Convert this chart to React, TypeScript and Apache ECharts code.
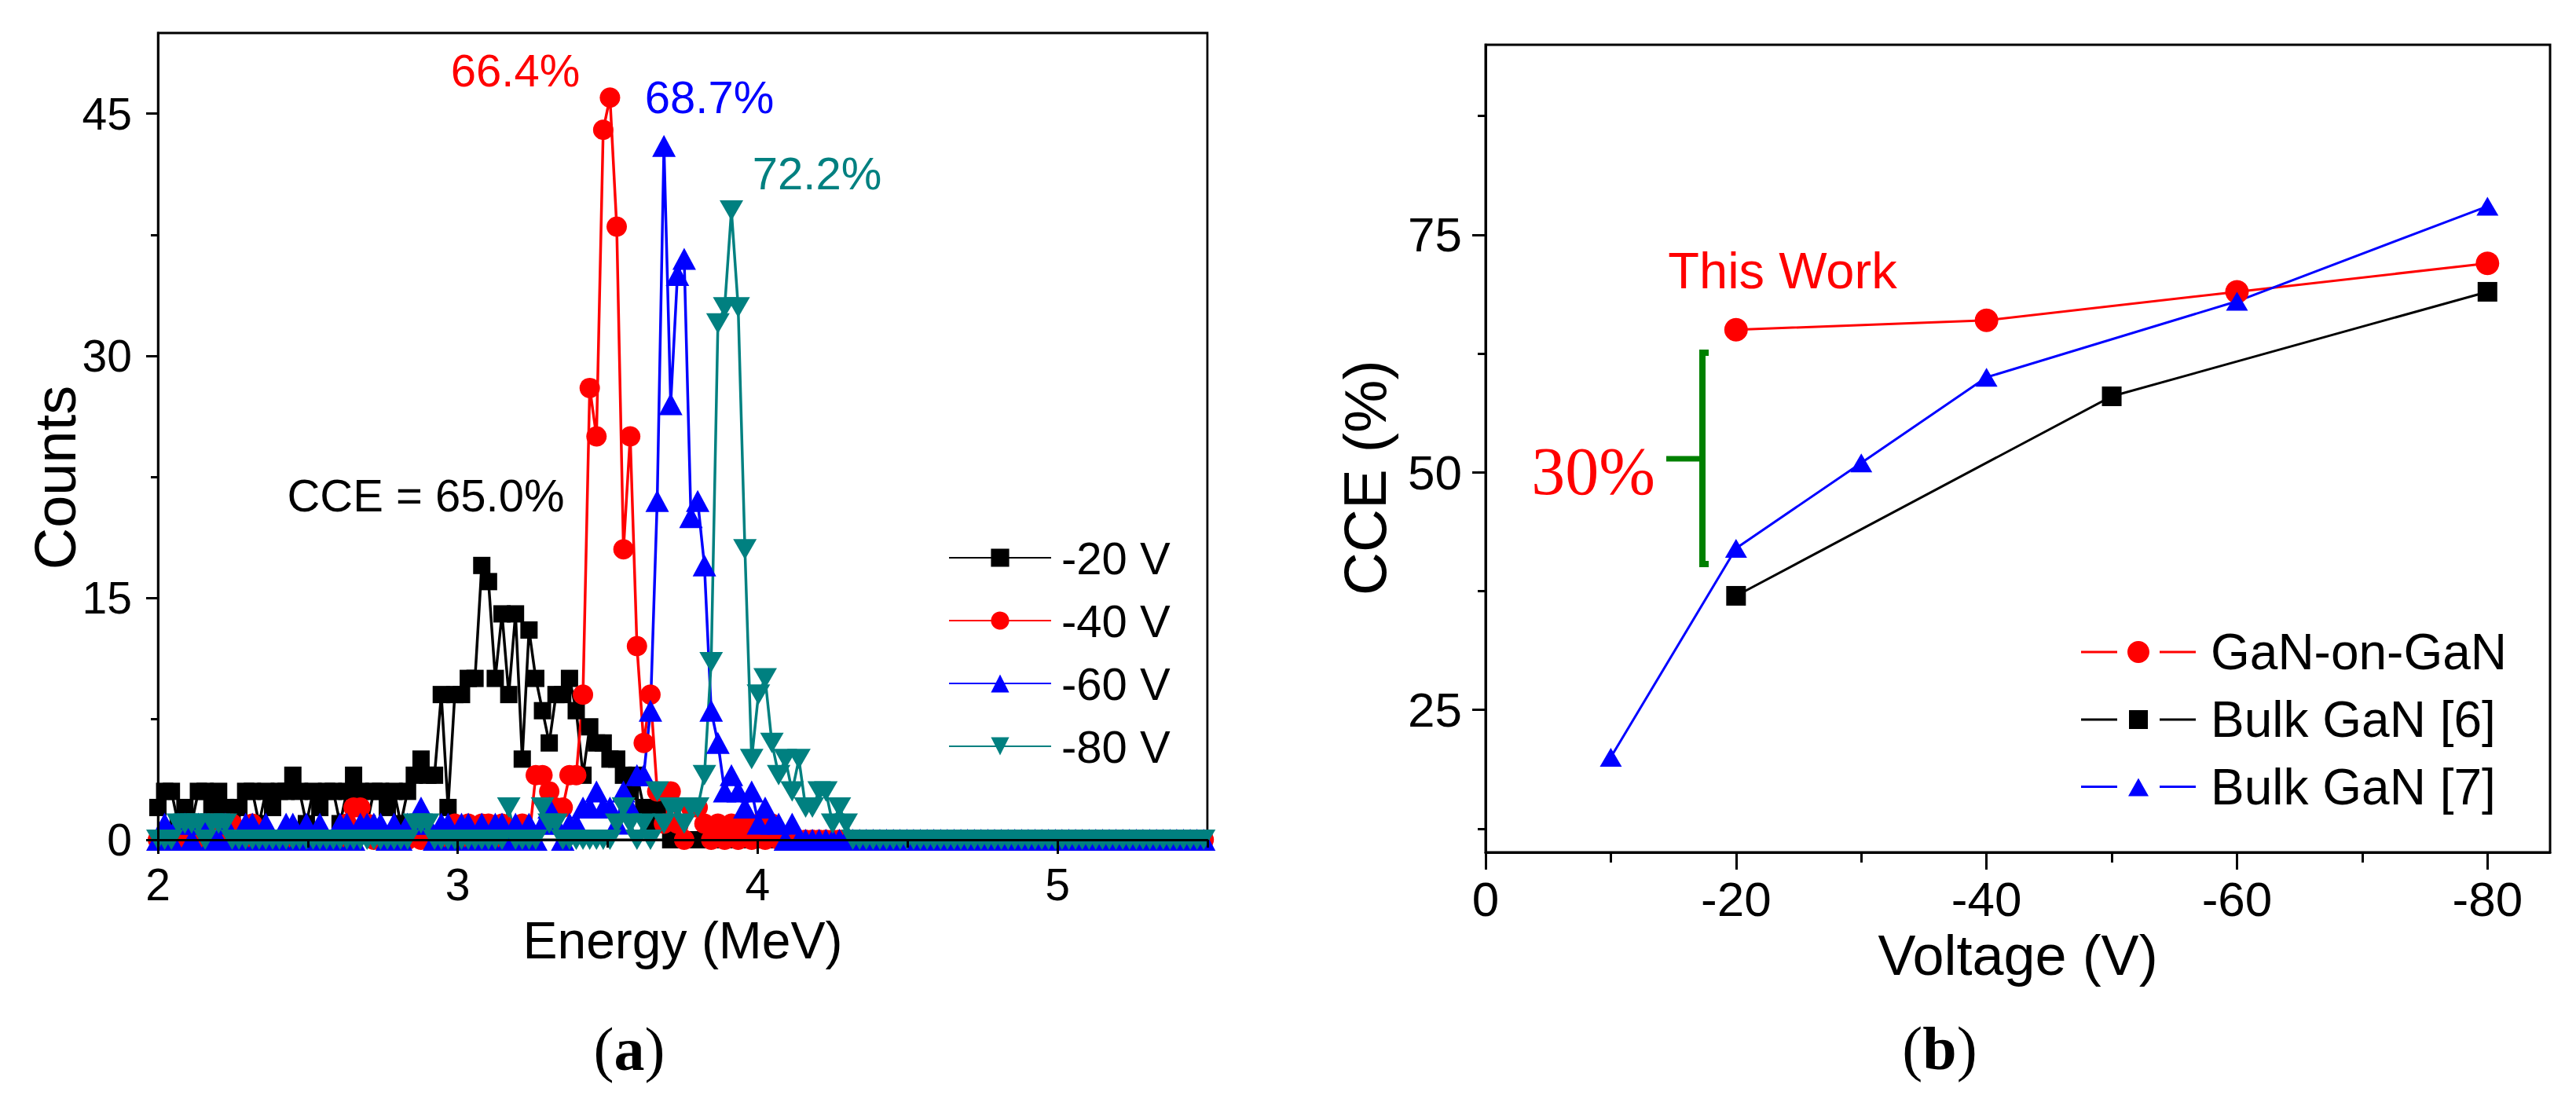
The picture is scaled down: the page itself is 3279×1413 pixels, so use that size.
import React, { useEffect, useRef } from 'react';
import * as echarts from 'echarts';

// (a) pulse height spectra, one value per channel: 2 MeV start, 0.0225 MeV per channel
const energyStart = 2;
const energyStep = 0.0225;

const counts20V = [
  2, 3, 3, 1, 2, 1, 3, 3, 2, 3,
  2, 1, 2, 3, 3, 1, 3, 2, 3, 3,
  4, 3, 1, 3, 2, 3, 3, 1, 3, 4,
  3, 1, 3, 3, 2, 3, 1, 3, 4, 5,
  4, 4, 9, 2, 9, 9, 10, 10, 17, 16,
  10, 14, 9, 14, 5, 13, 10, 8, 6, 9,
  9, 10, 8, 4, 7, 6, 6, 5, 5, 4,
  3, 4, 2, 1, 2, 1, 0, 1, 0, 0,
  0, 0, 0, 0, 0, 0, 0, 0, 0, 0,
  0, 0, 0, 0, 0, 0, 0, 0, 0, 0,
  0, 0, 0, 0, 0, 0, 0, 0, 0, 0,
  0, 0, 0, 0, 0, 0, 0, 0, 0, 0,
  0, 0, 0, 0, 0, 0, 0, 0, 0, 0,
  0, 0, 0, 0, 0, 0, 0, 0, 0, 0,
  0, 0, 0, 0, 0, 0, 0, 0, 0, 0,
  0, 0, 0, 0, 0, 0,
];

const counts40V = [
  0, 0, 0, 0, 0, 1, 0, 1, 1, 0,
  1, 1, 0, 0, 1, 0, 0, 0, 0, 0,
  0, 0, 0, 0, 0, 0, 0, 0, 1, 2,
  2, 1, 0, 0, 0, 0, 0, 0, 1, 0,
  0, 0, 0, 0, 1, 0, 1, 0, 1, 1,
  0, 1, 0, 0, 1, 0, 4, 4, 3, 2,
  2, 4, 4, 9, 28, 25, 44, 46, 38, 18,
  25, 12, 6, 9, 3, 1, 3, 1, 0, 2,
  2, 1, 0, 1, 0, 1, 0, 1, 0, 1,
  0, 1, 0, 0, 0, 0, 0, 0, 0, 0,
  0, 0, 0, 0, 0, 0, 0, 0, 0, 0,
  0, 0, 0, 0, 0, 0, 0, 0, 0, 0,
  0, 0, 0, 0, 0, 0, 0, 0, 0, 0,
  0, 0, 0, 0, 0, 0, 0, 0, 0, 0,
  0, 0, 0, 0, 0, 0, 0, 0, 0, 0,
  0, 0, 0, 0, 0, 0,
];

const counts60V = [
  0, 1, 0, 1, 1, 0, 1, 1, 0, 0,
  1, 0, 0, 1, 1, 0, 1, 0, 0, 1,
  1, 0, 1, 0, 1, 0, 0, 1, 1, 0,
  1, 1, 1, 1, 0, 1, 0, 1, 1, 2,
  1, 0, 1, 1, 0, 1, 1, 0, 1, 0,
  1, 1, 0, 1, 0, 1, 0, 1, 2, 1,
  0, 1, 1, 2, 2, 3, 2, 2, 1, 3,
  2, 4, 4, 8, 21, 43, 27, 35, 36, 20,
  21, 17, 8, 6, 3, 4, 3, 2, 3, 1,
  2, 1, 1, 0, 1, 0, 0, 0, 0, 0,
  0, 0, 0, 0, 0, 0, 0, 0, 0, 0,
  0, 0, 0, 0, 0, 0, 0, 0, 0, 0,
  0, 0, 0, 0, 0, 0, 0, 0, 0, 0,
  0, 0, 0, 0, 0, 0, 0, 0, 0, 0,
  0, 0, 0, 0, 0, 0, 0, 0, 0, 0,
  0, 0, 0, 0, 0, 0,
];

const counts80V = [
  0, 0, 0, 1, 1, 1, 1, 0, 1, 1,
  1, 0, 0, 0, 0, 0, 0, 0, 0, 0,
  0, 0, 0, 0, 0, 0, 0, 0, 0, 0,
  0, 0, 0, 0, 0, 0, 0, 0, 1, 1,
  1, 0, 0, 0, 0, 0, 0, 0, 0, 0,
  0, 0, 2, 0, 0, 0, 0, 2, 1, 1,
  0, 0, 0, 0, 0, 0, 0, 0, 1, 2,
  1, 0, 1, 0, 3, 1, 2, 2, 1, 2,
  2, 4, 11, 32, 33, 39, 33, 18, 5, 9,
  10, 6, 4, 5, 3, 5, 2, 2, 3, 3,
  1, 2, 1, 0, 0, 0, 0, 0, 0, 0,
  0, 0, 0, 0, 0, 0, 0, 0, 0, 0,
  0, 0, 0, 0, 0, 0, 0, 0, 0, 0,
  0, 0, 0, 0, 0, 0, 0, 0, 0, 0,
  0, 0, 0, 0, 0, 0, 0, 0, 0, 0,
  0, 0, 0, 0, 0, 0,
];

const energyTicks = [2, 3, 4, 5];
const energyMinor = [2.5, 3.5, 4.5, 5.5];
const countTicks = [0, 15, 30, 45];
const countMinor = [7.5, 22.5, 37.5];

// (b) CCE against bias (magnitude, drawn with a minus sign on the axis)
const voltTicks = [0, 20, 40, 60, 80];
const voltMinor = [10, 30, 50, 70];
const cceTicks = [25, 50, 75];
const cceMinor = [12.5, 37.5, 62.5, 87.5];

const voltGaN = [20, 40, 60, 80];
const cceGaN = [65, 66, 69, 72];
const voltBulk6 = [20, 50, 80];
const cceBulk6 = [37, 58, 69];
const voltBulk7 = [10, 20, 30, 40, 60, 80];
const cceBulk7 = [20, 42, 51, 60, 68, 78];

const FONT = "'Liberation Sans', Arial, Helvetica, sans-serif";
const SERIF = "'Liberation Serif', 'Times New Roman', serif";

const RED = '#ff0000';
const BLUE = '#0000ff';
const TEAL = '#008080';
const GREEN = '#008000';

// legend icons "— ● —" with gaps round the marker
const SEG = 'M0,13.5 L46,13.5 L46,16.5 L0,16.5 Z M100,13.5 L146,13.5 L146,16.5 L100,16.5 Z ';
const iconCircle = 'path://' + SEG + 'M73,1 C80.73,1 87,7.27 87,15 C87,22.73 80.73,29 73,29 C65.27,29 59,22.73 59,15 C59,7.27 65.27,1 73,1 Z';
const iconSquare = 'path://' + SEG + 'M61,3 L85,3 L85,27 L61,27 Z';
const iconTriangle = 'path://' + SEG + 'M73,4 L86,27 L60,27 Z';

const toPoints = (vals: number[]) =>
  vals.map((v, i) => [+(energyStart + i * energyStep).toFixed(4), v]);

const pair = (xs: number[], ys: number[]) => xs.map((x, i) => [x, ys[i]]);

const axisBase = (gridIndex: number, min: number, max: number) => ({
  gridIndex,
  type: 'value' as const,
  min,
  max,
  z: 5,
  splitLine: { show: false },
});

const label = (text: string, x: number, y: number, fill: string, fontSize: number, fontFamily = FONT) => ({
  type: 'text',
  z: 6,
  silent: true,
  style: { text, x, y, fill, fontSize, fontFamily, textAlign: 'center', textVerticalAlign: 'middle' },
});

const App: React.FC = () => {
  const chartRef = useRef<HTMLDivElement>(null);

  useEffect(() => {
    if (!chartRef.current) return;
    const chart = echarts.init(chartRef.current, undefined, { renderer: 'svg' });

    const tickStyle = { color: '#000', width: 3 };
    const lineAxis = { show: true, onZero: false, lineStyle: { color: '#000', width: 3 } };

    const spectra = [
      { name: '-20 V', data: counts20V, color: '#000000', symbol: 'rect', size: 22, rotate: 0 },
      { name: '-40 V', data: counts40V, color: RED, symbol: 'circle', size: 26, rotate: 0 },
      { name: '-60 V', data: counts60V, color: BLUE, symbol: 'triangle', size: [30, 28], rotate: 0 },
      { name: '-80 V', data: counts80V, color: TEAL, symbol: 'triangle', size: [30, 26], rotate: 180 },
    ];

    const cce = [
      { name: 'GaN-on-GaN', data: pair(voltGaN, cceGaN), color: RED, symbol: 'circle', size: 30 },
      { name: 'Bulk GaN [6]', data: pair(voltBulk6, cceBulk6), color: '#000000', symbol: 'rect', size: 25 },
      { name: 'Bulk GaN [7]', data: pair(voltBulk7, cceBulk7), color: BLUE, symbol: 'triangle', size: [28, 24] },
    ];

    const rich = {
      p: { fontSize: 78, fontFamily: SERIF, fill: '#000' },
      b: { fontSize: 78, fontFamily: SERIF, fontWeight: 'bold', fill: '#000' },
    };

    const option = {
      animation: false,
      backgroundColor: '#ffffff',
      textStyle: { fontFamily: FONT },
      grid: [
        {
          left: 201, top: 42, width: 1336, height: 1027,
          show: true, borderColor: '#000', borderWidth: 3, backgroundColor: 'transparent',
          containLabel: false, outerBoundsMode: 'none',
        },
        {
          left: 1891, top: 57, width: 1355, height: 1028,
          show: true, borderColor: '#000', borderWidth: 3, backgroundColor: 'transparent',
          containLabel: false, outerBoundsMode: 'none',
        },
      ],
      xAxis: [
        {
          ...axisBase(0, 2, 5.5),
          position: 'bottom',
          axisLine: lineAxis,
          axisTick: { show: true, length: 18, lineStyle: tickStyle, customValues: energyTicks },
          axisLabel: { customValues: energyTicks, margin: 28, fontSize: 57, color: '#000', fontFamily: FONT },
          name: 'Energy (MeV)',
          nameLocation: 'middle',
          nameGap: 95,
          nameTextStyle: { fontSize: 66, color: '#000', fontFamily: FONT },
        },
        {
          ...axisBase(0, 2, 5.5),
          position: 'bottom',
          axisLine: { show: false },
          axisTick: { show: true, length: 10, lineStyle: tickStyle, customValues: energyMinor },
          axisLabel: { show: false },
        },
        {
          ...axisBase(1, 0, 85),
          position: 'bottom',
          axisLine: lineAxis,
          axisTick: { show: true, length: 22, lineStyle: tickStyle, customValues: voltTicks },
          axisLabel: {
            customValues: voltTicks, margin: 28, fontSize: 62, color: '#000', fontFamily: FONT,
            formatter: (v: number) => (v === 0 ? '0' : '-' + v),
          },
          name: 'Voltage (V)',
          nameLocation: 'middle',
          nameGap: 86,
          nameTextStyle: { fontSize: 72, color: '#000', fontFamily: FONT },
        },
        {
          ...axisBase(1, 0, 85),
          position: 'bottom',
          axisLine: { show: false },
          axisTick: { show: true, length: 13, lineStyle: tickStyle, customValues: voltMinor },
          axisLabel: { show: false },
        },
      ],
      yAxis: [
        {
          ...axisBase(0, 0, 50),
          position: 'left',
          axisLine: lineAxis,
          axisTick: { show: true, length: 15, lineStyle: tickStyle, customValues: countTicks },
          axisLabel: { customValues: countTicks, margin: 33, fontSize: 57, color: '#000', fontFamily: FONT },
        },
        {
          ...axisBase(0, 0, 50),
          position: 'left',
          axisLine: { show: false },
          axisTick: { show: true, length: 9, lineStyle: tickStyle, customValues: countMinor },
          axisLabel: { show: false },
        },
        {
          ...axisBase(1, 10, 95),
          position: 'left',
          axisLine: lineAxis,
          axisTick: { show: true, length: 17, lineStyle: tickStyle, customValues: cceTicks },
          axisLabel: { customValues: cceTicks, margin: 30, fontSize: 62, color: '#000', fontFamily: FONT },
        },
        {
          ...axisBase(1, 10, 95),
          position: 'left',
          axisLine: { show: false },
          axisTick: { show: true, length: 10, lineStyle: tickStyle, customValues: cceMinor },
          axisLabel: { show: false },
        },
      ],
      legend: [
        {
          orient: 'vertical',
          left: 1207,
          top: 681,
          padding: 0,
          itemWidth: 130,
          itemHeight: 29,
          itemGap: 22,
          selectedMode: false,
          data: spectra.map((s) => s.name),
          textStyle: { fontSize: 58, lineHeight: 58, color: '#000', fontFamily: FONT, padding: [0, 0, 0, 8] },
        },
        {
          orient: 'vertical',
          left: 2649,
          top: 798,
          padding: 0,
          itemWidth: 146,
          itemHeight: 30,
          itemGap: 22,
          selectedMode: false,
          data: [
            { name: 'GaN-on-GaN', icon: iconCircle },
            { name: 'Bulk GaN [6]', icon: iconSquare },
            { name: 'Bulk GaN [7]', icon: iconTriangle },
          ],
          textStyle: { fontSize: 64, lineHeight: 64, color: '#000', fontFamily: FONT, padding: [0, 0, 0, 14] },
        },
      ],
      series: [
        ...spectra.map((s) => ({
          name: s.name,
          type: 'line',
          xAxisIndex: 0,
          yAxisIndex: 0,
          data: toPoints(s.data),
          symbol: s.symbol,
          symbolSize: s.size,
          symbolRotate: s.rotate,
          showSymbol: true,
          showAllSymbol: true,
          color: s.color,
          itemStyle: { color: s.color },
          lineStyle: { color: s.color, width: 3.5 },
          silent: true,
        })),
        ...cce.map((s) => ({
          name: s.name,
          type: 'line',
          xAxisIndex: 2,
          yAxisIndex: 2,
          data: s.data,
          symbol: s.symbol,
          symbolSize: s.size,
          showSymbol: true,
          color: s.color,
          itemStyle: { color: s.color },
          lineStyle: { color: s.color, width: 3 },
          silent: true,
        })),
      ],
      graphic: [
        // keep markers sitting on the frame from spilling outside panel (a)
        { type: 'rect', z: 3, silent: true, shape: { x: 150, y: 1070.5, width: 1420, height: 45 }, style: { fill: '#fff' } },
        { type: 'rect', z: 3, silent: true, shape: { x: 170, y: 30, width: 29.5, height: 1045 }, style: { fill: '#fff' } },
        { type: 'rect', z: 3, silent: true, shape: { x: 1538.5, y: 30, width: 30, height: 1045 }, style: { fill: '#fff' } },
        // titles of the two value axes on the left
        {
          type: 'text', z: 6, silent: true, x: 70, y: 608, rotation: Math.PI / 2,
          style: { text: 'Counts', x: 0, y: 0, fill: '#000', fontSize: 74, fontFamily: FONT, textAlign: 'center', textVerticalAlign: 'middle' },
        },
        {
          type: 'text', z: 6, silent: true, x: 1737, y: 608, rotation: Math.PI / 2,
          style: { text: 'CCE (%)', x: 0, y: 0, fill: '#000', fontSize: 76, fontFamily: FONT, textAlign: 'center', textVerticalAlign: 'middle' },
        },
        label('66.4%', 656, 89, RED, 58),
        label('68.7%', 903, 123, BLUE, 58),
        label('72.2%', 1040, 220, TEAL, 58),
        label('CCE = 65.0%', 542, 630, '#000', 58),
        label('This Work', 2269, 344, RED, 65),
        label('30%', 2028, 600, RED, 86, SERIF),
        {
          type: 'polyline', z: 6, silent: true,
          shape: { points: [[2175, 449], [2167, 449], [2167, 718], [2175, 718]] },
          style: { stroke: GREEN, lineWidth: 8, fill: null, lineJoin: 'miter' },
        },
        {
          type: 'line', z: 6, silent: true,
          shape: { x1: 2121, y1: 584, x2: 2167, y2: 584 },
          style: { stroke: GREEN, lineWidth: 7 },
        },
        {
          type: 'text', z: 6, silent: true,
          style: { text: '{p|(}{b|a}{p|)}', x: 801, y: 1335, textAlign: 'center', textVerticalAlign: 'middle', rich },
        },
        {
          type: 'text', z: 6, silent: true,
          style: { text: '{p|(}{b|b}{p|)}', x: 2469, y: 1334, textAlign: 'center', textVerticalAlign: 'middle', rich },
        },
      ],
    };

    chart.setOption(option as any);

    return () => {
      chart.dispose();
    };
  }, []);

  return (
    <div
      ref={chartRef}
      style={{ position: 'absolute', left: 0, top: 0, width: 3279, height: 1413, background: '#fff' }}
    />
  );
};

export default App;
